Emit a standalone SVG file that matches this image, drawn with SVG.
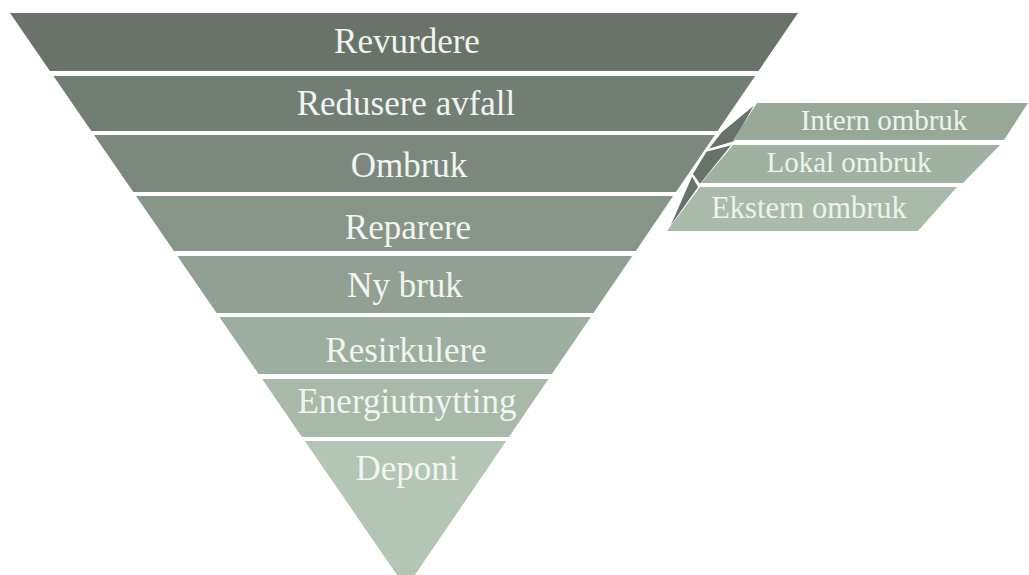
<svg xmlns="http://www.w3.org/2000/svg" width="1029" height="575" viewBox="0 0 1029 575">
  <style>
    .lbl { font-family: "Liberation Serif", "Times New Roman", serif; font-size: 35px; fill: #f1f4ef; text-anchor: middle; }
    .sub { font-family: "Liberation Serif", "Times New Roman", serif; font-size: 29px; fill: #eef2ec; text-anchor: middle; }
    .fold { fill: #66726a; stroke: #ffffff; stroke-width: 1.5; stroke-linejoin: round; }
  </style>
  <rect width="1029" height="575" fill="#ffffff"/>

  <!-- inverted pyramid, one band per level -->
  <g id="revurdere">
    <polygon points="10,13 798,13 758.5,71 49.9,71" fill="#69736a"/>
    <text class="lbl" x="407" y="53">Revurdere</text>
  </g>
  <g id="redusere-avfall">
    <polygon points="53.4,76 755.1,76 717.6,131 91.3,131" fill="#727e74"/>
    <text class="lbl" x="406" y="115">Redusere avfall</text>
  </g>
  <g id="ombruk">
    <polygon points="94,135 714.8,135 676,192 133.3,192" fill="#7c887e"/>
    <text class="lbl" x="409" y="177">Ombruk</text>
  </g>
  <g id="reparere">
    <polygon points="136,196 673.2,196 635.8,251 173.9,251" fill="#879488"/>
    <text class="lbl" x="408" y="239">Reparere</text>
  </g>
  <g id="ny-bruk">
    <polygon points="177.4,256 632.3,256 593.5,313 216.6,313" fill="#92a093"/>
    <text class="lbl" x="405" y="297">Ny bruk</text>
  </g>
  <g id="resirkulere">
    <polygon points="219.4,317 590.8,317 551.9,374 258.6,374" fill="#9dad9f"/>
    <text class="lbl" x="406" y="362">Resirkulere</text>
  </g>
  <g id="energiutnytting">
    <polygon points="262.1,379 548.5,379 508.9,437 302,437" fill="#a8b9aa"/>
    <text class="lbl" x="407" y="413">Energiutnytting</text>
  </g>
  <g id="deponi">
    <polygon points="304.8,441 506.2,441 406,588" fill="#b3c6b5"/>
    <text class="lbl" x="407" y="480">Deponi</text>
  </g>

  <!-- folded side face joining Ombruk to its three sub-levels -->
  <g id="connectors">
    <polygon class="fold" points="756,103 734,142 707,150 721,132"/>
    <polygon class="fold" points="706,151 733,144 700,185 692,174"/>
    <polygon class="fold" points="692,175 699,187 667,232"/>
  </g>

  <!-- sub-levels of Ombruk -->
  <g id="intern-ombruk">
    <polygon points="757,103 1028,103 1004,140 733,140" fill="#97a899"/>
    <text class="sub" x="884" y="130">Intern ombruk</text>
  </g>
  <g id="lokal-ombruk">
    <polygon points="733,145 1000,145 963,183 701,183" fill="#a0b1a2"/>
    <text class="sub" x="849" y="172">Lokal ombruk</text>
  </g>
  <g id="ekstern-ombruk">
    <polygon points="700,187 957,187 918,231 667,231" fill="#a9baab"/>
    <text class="sub" x="809" y="218" style="font-size:30.5px">Ekstern ombruk</text>
  </g>
</svg>
